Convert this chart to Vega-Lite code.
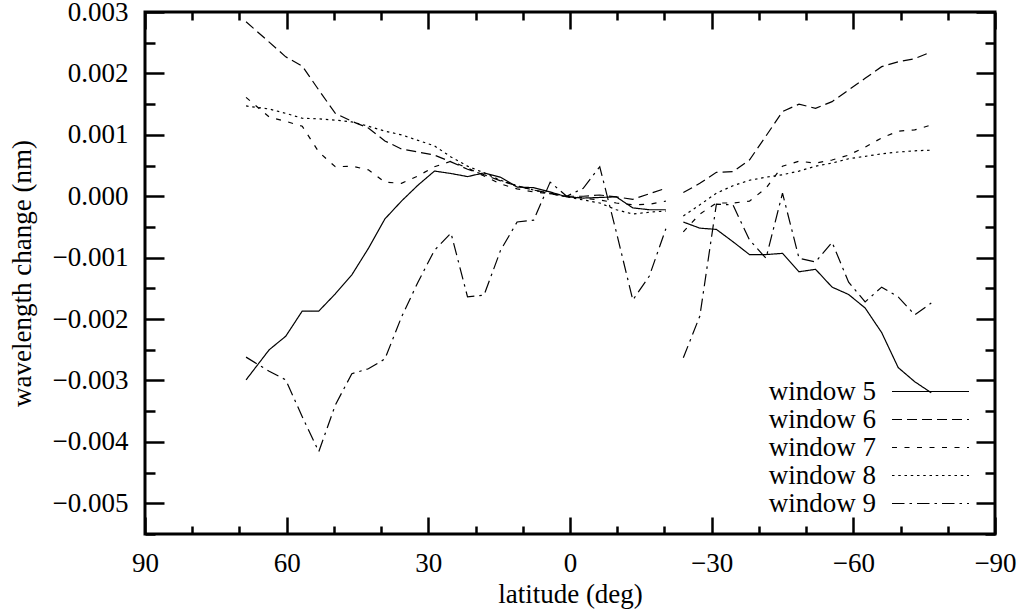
{
"$schema":"https://vega.github.io/schema/vega-lite/v6.json",
"width":850,"height":522,"autosize":"none",
"padding":{"left":145,"top":12,"right":31,"bottom":76},
"background":"white",
"config":{"font":"Liberation Serif","view":{"stroke":"black","strokeWidth":3},
"axis":{"labelFont":"Liberation Serif","labelFontSize":27,"labelColor":"black","titleFont":"Liberation Serif","titleFontSize":27,"titleFontWeight":"normal","titleColor":"black","tickColor":"black","tickWidth":2.5,"domain":false,"grid":false,"labelFlush":false,"labelOverlap":false}},
"data":{"values":[
{"w":"window 5","s":"N","lat":68.6,"val":-0.00299},{"w":"window 5","s":"N","lat":63.7,"val":-0.00250},{"w":"window 5","s":"N","lat":60.2,"val":-0.00228},{"w":"window 5","s":"N","lat":56.7,"val":-0.00187},{"w":"window 5","s":"N","lat":53.2,"val":-0.00187},{"w":"window 5","s":"N","lat":49.7,"val":-0.00159},{"w":"window 5","s":"N","lat":46.2,"val":-0.00128},{"w":"window 5","s":"N","lat":42.7,"val":-0.00085},{"w":"window 5","s":"N","lat":39.2,"val":-0.00037},{"w":"window 5","s":"N","lat":35.7,"val":-0.00008},{"w":"window 5","s":"N","lat":32.2,"val":0.00018},{"w":"window 5","s":"N","lat":28.7,"val":0.00041},{"w":"window 5","s":"N","lat":25.2,"val":0.00037},{"w":"window 5","s":"N","lat":21.7,"val":0.00032},{"w":"window 5","s":"N","lat":18.2,"val":0.00038},{"w":"window 5","s":"N","lat":14.7,"val":0.00031},{"w":"window 5","s":"N","lat":11.2,"val":0.00015},{"w":"window 5","s":"N","lat":7.7,"val":0.00014},{"w":"window 5","s":"N","lat":4.2,"val":0.00007},{"w":"window 5","s":"N","lat":0.7,"val":-0.00001},{"w":"window 5","s":"N","lat":-2.8,"val":-0.00003},{"w":"window 5","s":"N","lat":-6.3,"val":-0.00002},{"w":"window 5","s":"N","lat":-9.8,"val":-0.00001},{"w":"window 5","s":"N","lat":-13.3,"val":-0.00019},{"w":"window 5","s":"N","lat":-16.8,"val":-0.00022},{"w":"window 5","s":"N","lat":-20.3,"val":-0.00022},
{"w":"window 5","s":"S","lat":-24.0,"val":-0.00042},{"w":"window 5","s":"S","lat":-27.5,"val":-0.00052},{"w":"window 5","s":"S","lat":-31.0,"val":-0.00054},{"w":"window 5","s":"S","lat":-34.5,"val":-0.00074},{"w":"window 5","s":"S","lat":-38.0,"val":-0.00095},{"w":"window 5","s":"S","lat":-41.5,"val":-0.00095},{"w":"window 5","s":"S","lat":-45.0,"val":-0.00093},{"w":"window 5","s":"S","lat":-48.5,"val":-0.00123},{"w":"window 5","s":"S","lat":-52.0,"val":-0.00119},{"w":"window 5","s":"S","lat":-55.5,"val":-0.00148},{"w":"window 5","s":"S","lat":-59.0,"val":-0.00160},{"w":"window 5","s":"S","lat":-62.5,"val":-0.00182},{"w":"window 5","s":"S","lat":-66.0,"val":-0.00222},{"w":"window 5","s":"S","lat":-69.5,"val":-0.00279},{"w":"window 5","s":"S","lat":-73.0,"val":-0.00302},{"w":"window 5","s":"S","lat":-76.5,"val":-0.00320},
{"w":"window 6","s":"N","lat":68.6,"val":0.00284},{"w":"window 6","s":"N","lat":63.7,"val":0.00251},{"w":"window 6","s":"N","lat":60.2,"val":0.00227},{"w":"window 6","s":"N","lat":56.7,"val":0.00212},{"w":"window 6","s":"N","lat":53.2,"val":0.00173},{"w":"window 6","s":"N","lat":49.7,"val":0.00135},{"w":"window 6","s":"N","lat":46.2,"val":0.00122},{"w":"window 6","s":"N","lat":42.7,"val":0.00111},{"w":"window 6","s":"N","lat":39.2,"val":0.00090},{"w":"window 6","s":"N","lat":35.7,"val":0.00077},{"w":"window 6","s":"N","lat":32.2,"val":0.00072},{"w":"window 6","s":"N","lat":28.7,"val":0.00067},{"w":"window 6","s":"N","lat":25.2,"val":0.00056},{"w":"window 6","s":"N","lat":21.7,"val":0.00044},{"w":"window 6","s":"N","lat":18.2,"val":0.00035},{"w":"window 6","s":"N","lat":14.7,"val":0.00025},{"w":"window 6","s":"N","lat":11.2,"val":0.00017},{"w":"window 6","s":"N","lat":7.7,"val":0.00010},{"w":"window 6","s":"N","lat":4.2,"val":0.00005},{"w":"window 6","s":"N","lat":0.7,"val":0.0},{"w":"window 6","s":"N","lat":-2.8,"val":0.0},{"w":"window 6","s":"N","lat":-6.3,"val":0.00002},{"w":"window 6","s":"N","lat":-9.8,"val":-0.00001},{"w":"window 6","s":"N","lat":-13.3,"val":-0.00005},{"w":"window 6","s":"N","lat":-16.8,"val":0.00004},{"w":"window 6","s":"N","lat":-20.3,"val":0.00013},
{"w":"window 6","s":"S","lat":-24.0,"val":0.00006},{"w":"window 6","s":"S","lat":-27.5,"val":0.00021},{"w":"window 6","s":"S","lat":-31.0,"val":0.00039},{"w":"window 6","s":"S","lat":-34.5,"val":0.00040},{"w":"window 6","s":"S","lat":-38.0,"val":0.00059},{"w":"window 6","s":"S","lat":-41.5,"val":0.00098},{"w":"window 6","s":"S","lat":-45.0,"val":0.00138},{"w":"window 6","s":"S","lat":-48.5,"val":0.00150},{"w":"window 6","s":"S","lat":-52.0,"val":0.00143},{"w":"window 6","s":"S","lat":-55.5,"val":0.00154},{"w":"window 6","s":"S","lat":-59.0,"val":0.00173},{"w":"window 6","s":"S","lat":-62.5,"val":0.00192},{"w":"window 6","s":"S","lat":-66.0,"val":0.00211},{"w":"window 6","s":"S","lat":-69.5,"val":0.00219},{"w":"window 6","s":"S","lat":-73.0,"val":0.00224},{"w":"window 6","s":"S","lat":-76.5,"val":0.00235},
{"w":"window 7","s":"N","lat":68.6,"val":0.00161},{"w":"window 7","s":"N","lat":63.7,"val":0.00129},{"w":"window 7","s":"N","lat":60.2,"val":0.00122},{"w":"window 7","s":"N","lat":56.7,"val":0.00114},{"w":"window 7","s":"N","lat":53.2,"val":0.00072},{"w":"window 7","s":"N","lat":49.7,"val":0.00048},{"w":"window 7","s":"N","lat":46.2,"val":0.00049},{"w":"window 7","s":"N","lat":42.7,"val":0.00043},{"w":"window 7","s":"N","lat":39.2,"val":0.00023},{"w":"window 7","s":"N","lat":35.7,"val":0.00021},{"w":"window 7","s":"N","lat":32.2,"val":0.00033},{"w":"window 7","s":"N","lat":28.7,"val":0.00048},{"w":"window 7","s":"N","lat":25.2,"val":0.00057},{"w":"window 7","s":"N","lat":21.7,"val":0.00046},{"w":"window 7","s":"N","lat":18.2,"val":0.00033},{"w":"window 7","s":"N","lat":14.7,"val":0.00020},{"w":"window 7","s":"N","lat":11.2,"val":0.00012},{"w":"window 7","s":"N","lat":7.7,"val":0.00007},{"w":"window 7","s":"N","lat":4.2,"val":0.00004},{"w":"window 7","s":"N","lat":0.7,"val":0.0},{"w":"window 7","s":"N","lat":-2.8,"val":-0.00003},{"w":"window 7","s":"N","lat":-6.3,"val":-0.00006},{"w":"window 7","s":"N","lat":-9.8,"val":-0.00011},{"w":"window 7","s":"N","lat":-13.3,"val":-0.00014},{"w":"window 7","s":"N","lat":-16.8,"val":-0.00013},{"w":"window 7","s":"N","lat":-20.3,"val":-0.00008},
{"w":"window 7","s":"S","lat":-24.0,"val":-0.00058},{"w":"window 7","s":"S","lat":-27.5,"val":-0.00029},{"w":"window 7","s":"S","lat":-31.0,"val":-0.00011},{"w":"window 7","s":"S","lat":-34.5,"val":-0.00011},{"w":"window 7","s":"S","lat":-38.0,"val":-0.00008},{"w":"window 7","s":"S","lat":-41.5,"val":0.00013},{"w":"window 7","s":"S","lat":-45.0,"val":0.00049},{"w":"window 7","s":"S","lat":-48.5,"val":0.00057},{"w":"window 7","s":"S","lat":-52.0,"val":0.00054},{"w":"window 7","s":"S","lat":-55.5,"val":0.00059},{"w":"window 7","s":"S","lat":-59.0,"val":0.00067},{"w":"window 7","s":"S","lat":-62.5,"val":0.00080},{"w":"window 7","s":"S","lat":-66.0,"val":0.00095},{"w":"window 7","s":"S","lat":-69.5,"val":0.00106},{"w":"window 7","s":"S","lat":-73.0,"val":0.00108},{"w":"window 7","s":"S","lat":-76.5,"val":0.00116},
{"w":"window 8","s":"N","lat":68.6,"val":0.00147},{"w":"window 8","s":"N","lat":63.7,"val":0.00142},{"w":"window 8","s":"N","lat":60.2,"val":0.00135},{"w":"window 8","s":"N","lat":56.7,"val":0.00127},{"w":"window 8","s":"N","lat":53.2,"val":0.00126},{"w":"window 8","s":"N","lat":49.7,"val":0.00124},{"w":"window 8","s":"N","lat":46.2,"val":0.00121},{"w":"window 8","s":"N","lat":42.7,"val":0.00114},{"w":"window 8","s":"N","lat":39.2,"val":0.00106},{"w":"window 8","s":"N","lat":35.7,"val":0.00100},{"w":"window 8","s":"N","lat":32.2,"val":0.00091},{"w":"window 8","s":"N","lat":28.7,"val":0.00082},{"w":"window 8","s":"N","lat":25.2,"val":0.00064},{"w":"window 8","s":"N","lat":21.7,"val":0.00049},{"w":"window 8","s":"N","lat":18.2,"val":0.00038},{"w":"window 8","s":"N","lat":14.7,"val":0.00026},{"w":"window 8","s":"N","lat":11.2,"val":0.00017},{"w":"window 8","s":"N","lat":7.7,"val":0.00010},{"w":"window 8","s":"N","lat":4.2,"val":0.00004},{"w":"window 8","s":"N","lat":0.7,"val":-0.00001},{"w":"window 8","s":"N","lat":-2.8,"val":-0.00006},{"w":"window 8","s":"N","lat":-6.3,"val":-0.00011},{"w":"window 8","s":"N","lat":-9.8,"val":-0.00022},{"w":"window 8","s":"N","lat":-13.3,"val":-0.00029},{"w":"window 8","s":"N","lat":-16.8,"val":-0.00026},{"w":"window 8","s":"N","lat":-20.3,"val":-0.00024},
{"w":"window 8","s":"S","lat":-24.0,"val":-0.00032},{"w":"window 8","s":"S","lat":-27.5,"val":-0.00014},{"w":"window 8","s":"S","lat":-31.0,"val":0.00005},{"w":"window 8","s":"S","lat":-34.5,"val":0.00017},{"w":"window 8","s":"S","lat":-38.0,"val":0.00026},{"w":"window 8","s":"S","lat":-41.5,"val":0.00031},{"w":"window 8","s":"S","lat":-45.0,"val":0.00035},{"w":"window 8","s":"S","lat":-48.5,"val":0.00041},{"w":"window 8","s":"S","lat":-52.0,"val":0.00049},{"w":"window 8","s":"S","lat":-55.5,"val":0.00054},{"w":"window 8","s":"S","lat":-59.0,"val":0.00061},{"w":"window 8","s":"S","lat":-62.5,"val":0.00065},{"w":"window 8","s":"S","lat":-66.0,"val":0.00069},{"w":"window 8","s":"S","lat":-69.5,"val":0.00072},{"w":"window 8","s":"S","lat":-73.0,"val":0.00074},{"w":"window 8","s":"S","lat":-76.5,"val":0.00075},
{"w":"window 9","s":"N","lat":68.6,"val":-0.00262},{"w":"window 9","s":"N","lat":63.7,"val":-0.00285},{"w":"window 9","s":"N","lat":60.2,"val":-0.00299},{"w":"window 9","s":"N","lat":56.7,"val":-0.00359},{"w":"window 9","s":"N","lat":53.2,"val":-0.00416},{"w":"window 9","s":"N","lat":49.7,"val":-0.00340},{"w":"window 9","s":"N","lat":46.2,"val":-0.00289},{"w":"window 9","s":"N","lat":42.7,"val":-0.00281},{"w":"window 9","s":"N","lat":39.2,"val":-0.00265},{"w":"window 9","s":"N","lat":35.7,"val":-0.00197},{"w":"window 9","s":"N","lat":32.2,"val":-0.00140},{"w":"window 9","s":"N","lat":28.7,"val":-0.00088},{"w":"window 9","s":"N","lat":25.2,"val":-0.00060},{"w":"window 9","s":"N","lat":21.7,"val":-0.00164},{"w":"window 9","s":"N","lat":18.2,"val":-0.00161},{"w":"window 9","s":"N","lat":14.7,"val":-0.00088},{"w":"window 9","s":"N","lat":11.2,"val":-0.00042},{"w":"window 9","s":"N","lat":7.7,"val":-0.00039},{"w":"window 9","s":"N","lat":4.2,"val":0.00023},{"w":"window 9","s":"N","lat":0.7,"val":0.0},{"w":"window 9","s":"N","lat":-2.8,"val":0.00013},{"w":"window 9","s":"N","lat":-6.3,"val":0.00048},{"w":"window 9","s":"N","lat":-9.8,"val":-0.00058},{"w":"window 9","s":"N","lat":-13.3,"val":-0.00169},{"w":"window 9","s":"N","lat":-16.8,"val":-0.00130},{"w":"window 9","s":"N","lat":-20.3,"val":-0.00053},
{"w":"window 9","s":"S","lat":-24.0,"val":-0.00263},{"w":"window 9","s":"S","lat":-27.5,"val":-0.00195},{"w":"window 9","s":"S","lat":-31.0,"val":-0.00013},{"w":"window 9","s":"S","lat":-34.5,"val":-0.00014},{"w":"window 9","s":"S","lat":-38.0,"val":-0.00071},{"w":"window 9","s":"S","lat":-41.5,"val":-0.00101},{"w":"window 9","s":"S","lat":-45.0,"val":0.00005},{"w":"window 9","s":"S","lat":-48.5,"val":-0.00101},{"w":"window 9","s":"S","lat":-52.0,"val":-0.00107},{"w":"window 9","s":"S","lat":-55.5,"val":-0.00075},{"w":"window 9","s":"S","lat":-59.0,"val":-0.00140},{"w":"window 9","s":"S","lat":-62.5,"val":-0.00172},{"w":"window 9","s":"S","lat":-66.0,"val":-0.00148},{"w":"window 9","s":"S","lat":-69.5,"val":-0.00164},{"w":"window 9","s":"S","lat":-73.0,"val":-0.00193},{"w":"window 9","s":"S","lat":-76.5,"val":-0.00174}
]},
"layer":[
{"mark":{"type":"line","color":"black","strokeWidth":1.2},
"encoding":{
"x":{"field":"lat","type":"quantitative","scale":{"domain":[-90,90],"reverse":true,"nice":false,"zero":false},
"axis":{"orient":"bottom","values":[-90,-80,-70,-60,-50,-40,-30,-20,-10,0,10,20,30,40,50,60,70,80,90],"format":"d","labelExpr":"datum.value % 30 === 0 ? datum.label : ''","tickSize":{"condition":{"test":"datum.value % 30 === 0","value":-17},"value":-8},"labelPadding":46,"labelBaseline":"middle","title":"latitude (deg)","titleY":60,"titleBaseline":"middle"}},
"y":{"field":"val","type":"quantitative","scale":{"domain":[-0.0055,0.003],"nice":false,"zero":false},
"axis":{"orient":"left","values":[-0.0055,-0.005,-0.0045,-0.004,-0.0035,-0.003,-0.0025,-0.002,-0.0015,-0.001,-0.0005,0,0.0005,0.001,0.0015,0.002,0.0025,0.003],"format":".3f","labelExpr":"abs(datum.value*1000 - round(datum.value*1000)) < 0.01 ? datum.label : ''","tickSize":{"condition":{"test":"abs(datum.value*1000 - round(datum.value*1000)) < 0.01","value":-19},"value":-10},"labelPadding":36,"title":"wavelength change (nm)","titleX":-123,"titleY":261,"titleAngle":-90,"titleAlign":"center","titleBaseline":"middle"}},
"strokeDash":{"field":"w","type":"nominal","scale":{"domain":["window 5","window 6","window 7","window 8","window 9"],"range":[[1,0],[10,5],[5,7.5],[2.5,3.75],[12.5,5,2.5,5]]},
"legend":{"orient":"none","legendX":772,"legendY":366,"title":null,"symbolType":"M-10,0H10","symbolSize":59.3,"symbolStrokeWidth":1.2,"symbolStrokeColor":"black","labelFont":"Liberation Serif","labelFontSize":27,"labelColor":"black","labelAlign":"right","labelOffset":-68,"labelLimit":0,"rowPadding":0,"padding":0}},
"detail":{"field":"s","type":"nominal"}}},
{"mark":{"type":"point","opacity":0},
"encoding":{
"x":{"field":"lat","type":"quantitative","axis":{"orient":"top","values":[-90,-80,-70,-60,-50,-40,-30,-20,-10,0,10,20,30,40,50,60,70,80,90],"labels":false,"title":null,"tickSize":{"condition":{"test":"datum.value % 30 === 0","value":-17},"value":-8}}},
"y":{"field":"val","type":"quantitative","axis":{"orient":"right","values":[-0.0055,-0.005,-0.0045,-0.004,-0.0035,-0.003,-0.0025,-0.002,-0.0015,-0.001,-0.0005,0,0.0005,0.001,0.0015,0.002,0.0025,0.003],"labels":false,"title":null,"tickSize":{"condition":{"test":"abs(datum.value*1000 - round(datum.value*1000)) < 0.01","value":-19},"value":-10}}}}}
],
"resolve":{"axis":{"x":"independent","y":"independent"}}
}
